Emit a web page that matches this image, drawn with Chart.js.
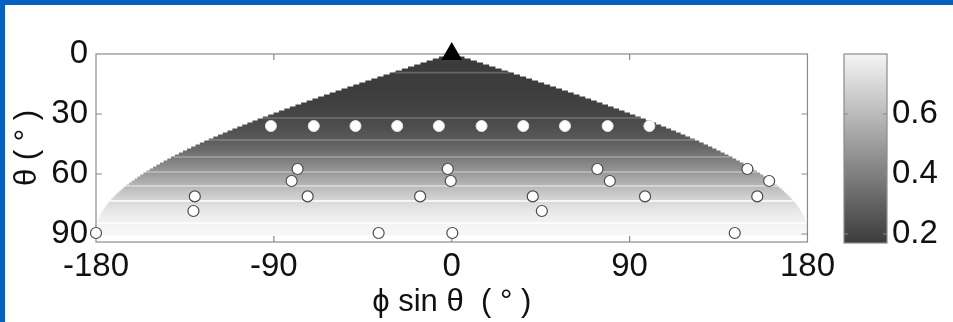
<!DOCTYPE html>
<html>
<head>
<meta charset="utf-8">
<script src="https://cdn.jsdelivr.net/npm/chart.js@4.4.1/dist/chart.umd.min.js"></script>
<style>
html, body { margin: 0; padding: 0; background: #fff; }
#wrap { position: relative; width: 953px; height: 322px; overflow: hidden; background: #fff; }
#main { position: absolute; left: 0; top: 0; }
#cbar { position: absolute; left: 800px; top: 0; }
.edge { position: absolute; background: #0560be; z-index: 5; }
</style>
</head>
<body>
<div id="wrap">
  <canvas id="main" width="840" height="322" style="width:840px;height:322px"></canvas>
  <canvas id="cbar" width="153" height="322" style="width:153px;height:322px"></canvas>
  <div class="edge" style="left:0;top:0;width:953px;height:5px"></div>
  <div class="edge" style="left:0;top:0;width:5px;height:322px"></div>
</div>
<script>
// --- datos ---
const phiMax = 180;
const xTicks = [-180, -90, 0, 90, 180];
const yTicks = [0, 30, 60, 90];
const cbTicks = [0.2, 0.4, 0.6];
const cbMin = 0.17, cbMax = 0.8;

// filas de theta (1 grado) y valor del mapa en cada fila
const thetaRows = Array.from({ length: 89 }, (_, i) => i + 2);
const rowValues = [
  0.17, 0.17, 0.17, 0.17, 0.17, 0.17, 0.17, 0.17, 0.17,
  0.171, 0.171, 0.172, 0.172, 0.173, 0.173, 0.174, 0.175, 0.176, 0.177,
  0.179, 0.181, 0.183, 0.185, 0.187, 0.19, 0.193, 0.196, 0.2, 0.204,
  0.208, 0.212, 0.216, 0.22, 0.225, 0.23, 0.236, 0.242, 0.248, 0.255,
  0.262, 0.27, 0.278, 0.287, 0.297, 0.308, 0.319, 0.331, 0.343, 0.356,
  0.369, 0.382, 0.395, 0.408, 0.421, 0.435, 0.45, 0.465, 0.48, 0.495,
  0.51, 0.525, 0.54, 0.555, 0.571, 0.587, 0.603, 0.619, 0.634, 0.648,
  0.662, 0.676, 0.689, 0.702, 0.714, 0.725, 0.736, 0.746, 0.755, 0.763,
  0.77, 0.776, 0.782, 0.787, 0.792, 0.796, 0.8, 0.803, 0.806, 0.808
];
// lineas claras entre bandas
const seamTheta = [9.3, 32, 43, 51.5, 59, 66, 73.5, 84.5];

// fuente
const sourceX = [0];
const sourceTheta = [0];

// puntos rellenos (fila de 36 grados)
const filledX = [-91.5, -69.8, -48.7, -27.6, -6.5, 15.1, 36.2, 57.3, 78.9, 100];
const filledTheta = [36, 36, 36, 36, 36, 36, 36, 36, 36, 36];

// circulos abiertos
const openX = [-78, -81, -72.9, -130, -130.7, -16, -2, -0.5, 41, 45.6,
               73.7, 80, 97.8, 149.6, 160.6, 154.6, -180, -37, 0.3, 143.2];
const openTheta = [57.5, 63.5, 71.2, 71.2, 78.5, 71.2, 57.5, 63.5, 71.2, 78.5,
                   57.5, 63.5, 71.2, 57.5, 63.5, 71.2, 89.5, 89.5, 89.5, 89.5];

const FONT = "'Liberation Sans', Arial, sans-serif";
const sind = t => Math.sin(t * Math.PI / 180);

function grayOf(v, lift) {
  let g = Math.round(60 + (v - cbMin) / (cbMax - cbMin) * 185 + (lift || 0));
  g = Math.max(0, Math.min(255, g));
  return 'rgb(' + g + ',' + g + ',' + g + ')';
}

function valueAt(t) {
  const i = Math.max(0, Math.min(rowValues.length - 1, Math.round(t) - 2));
  return rowValues[i];
}

// marco y marcas hacia dentro
const marcoPrincipal = {
  id: 'marcoPrincipal',
  afterDatasetDraw(chart, args) {
    if (chart.data.datasets[args.index].label !== 'seams') return;
    const { ctx, chartArea: a, scales: { x, y } } = chart;
    ctx.save();
    ctx.strokeStyle = '#8a8a8a';
    ctx.lineWidth = 1.2;
    ctx.strokeRect(a.left, a.top, a.width, a.height);
    ctx.beginPath();
    [-90, 0, 90].forEach(v => {
      const px = x.getPixelForValue(v);
      ctx.moveTo(px, a.bottom); ctx.lineTo(px, a.bottom - 6);
      ctx.moveTo(px, a.top); ctx.lineTo(px, a.top + 6);
    });
    [30, 60, 90].forEach(v => {
      const py = y.getPixelForValue(v);
      ctx.moveTo(a.left, py); ctx.lineTo(a.left + 6, py);
      ctx.moveTo(a.right, py); ctx.lineTo(a.right - 6, py);
    });
    ctx.stroke();
    ctx.restore();
  }
};

const marcoBarra = {
  id: 'marcoBarra',
  afterDatasetsDraw(chart) {
    const { ctx, chartArea: a, scales: { y } } = chart;
    ctx.save();
    ctx.strokeStyle = '#8a8a8a';
    ctx.lineWidth = 1.2;
    ctx.strokeRect(a.left, a.top, a.width, a.height);
    ctx.beginPath();
    cbTicks.forEach(v => {
      const py = y.getPixelForValue(v);
      ctx.moveTo(a.left, py); ctx.lineTo(a.left + 4, py);
      ctx.moveTo(a.right, py); ctx.lineTo(a.right - 4, py);
    });
    ctx.stroke();
    ctx.restore();
  }
};

// Grafico principal
new Chart(document.getElementById('main'), {
  type: 'bar',
  data: {
    datasets: [
      {
        type: 'scatter', label: 'source',
        data: sourceX.map((x, i) => ({ x: x, y: sourceTheta[i] })),
        pointStyle: 'triangle', pointRadius: 12,
        backgroundColor: '#000', borderColor: '#000', borderWidth: 0,
        clip: false, order: 0
      },
      {
        type: 'scatter', label: 'open',
        data: openX.map((x, i) => ({ x: x, y: openTheta[i] })),
        pointRadius: 5.5, backgroundColor: '#fff', borderColor: '#4a4a4a', borderWidth: 1.2,
        clip: false, order: 1
      },
      {
        type: 'scatter', label: 'filled',
        data: filledX.map((x, i) => ({ x: x, y: filledTheta[i] })),
        pointRadius: 5.5, backgroundColor: '#fff', borderColor: '#e2e2e2', borderWidth: 1,
        clip: false, order: 1
      },
      {
        type: 'bar', label: 'seams', indexAxis: 'y', grouped: false,
        data: seamTheta.map(t => ({ y: t, x: [-phiMax * sind(t), phiMax * sind(t)] })),
        backgroundColor: seamTheta.map(t => grayOf(valueAt(t), 40)),
        barThickness: 1, borderWidth: 0, order: 2
      },
      {
        type: 'bar', label: 'map', indexAxis: 'y', grouped: false,
        data: thetaRows.map(t => ({ y: t, x: [-phiMax * sind(t), phiMax * sind(t)] })),
        backgroundColor: rowValues.map(v => grayOf(v)),
        barThickness: 2.4, borderWidth: 0, order: 3
      }
    ]
  },
  options: {
    responsive: false,
    animation: false,
    layout: { padding: { top: 54, right: 27, bottom: 0, left: 0 } },
    plugins: { legend: { display: false }, tooltip: { enabled: false } },
    scales: {
      x: {
        type: 'linear', min: -180, max: 180, offset: false, position: 'bottom',
        afterBuildTicks: s => { s.ticks = xTicks.map(v => ({ value: v })); },
        afterFit: s => { s.height = 80; },
        grid: { display: false, drawTicks: false, offset: false },
        border: { display: false },
        ticks: { font: { family: FONT, size: 33 }, color: '#111', padding: 5, maxRotation: 0, autoSkip: false },
        title: {
          display: true, text: 'ϕ sin θ  ( ° )', color: '#111',
          font: { family: FONT, size: 31 }, padding: { top: 0, bottom: 1 }
        }
      },
      y: {
        type: 'linear', min: 0, max: 94, reverse: true, offset: false,
        afterBuildTicks: s => { s.ticks = yTicks.map(v => ({ value: v })); },
        afterFit: s => { s.width = 96; },
        grid: { display: false, drawTicks: false, offset: false },
        border: { display: false },
        ticks: { font: { family: FONT, size: 33 }, color: '#111', padding: 8, autoSkip: false },
        title: {
          display: true, text: 'θ ( ° )', color: '#111',
          font: { family: FONT, size: 31 }, padding: { top: 9, bottom: 0 }
        }
      }
    }
  },
  plugins: [marcoPrincipal]
});

// Barra de color
new Chart(document.getElementById('cbar'), {
  type: 'bar',
  data: {
    labels: ['c'],
    datasets: [{
      data: [[cbMin, cbMax]],
      backgroundColor: function (c) {
        const chart = c.chart;
        if (!chart.chartArea) return '#888';
        const ys = chart.scales.y;
        const g = chart.ctx.createLinearGradient(0, ys.getPixelForValue(cbMax), 0, ys.getPixelForValue(cbMin));
        g.addColorStop(0, grayOf(cbMax));
        g.addColorStop(1, grayOf(cbMin));
        return g;
      },
      barPercentage: 1, categoryPercentage: 1, borderWidth: 0
    }]
  },
  options: {
    responsive: false,
    animation: false,
    layout: { padding: { left: 44, top: 54, bottom: 79, right: 0 } },
    plugins: { legend: { display: false }, tooltip: { enabled: false } },
    scales: {
      x: { display: false },
      y: {
        position: 'right', min: cbMin, max: cbMax,
        afterBuildTicks: s => { s.ticks = cbTicks.map(v => ({ value: v })); },
        afterFit: s => { s.width = 66; },
        grid: { display: false, drawTicks: false },
        border: { display: false },
        ticks: {
          font: { family: FONT, size: 33 }, color: '#111', padding: 5,
          callback: v => v.toFixed(1)
        }
      }
    }
  },
  plugins: [marcoBarra]
});
</script>
</body>
</html>
